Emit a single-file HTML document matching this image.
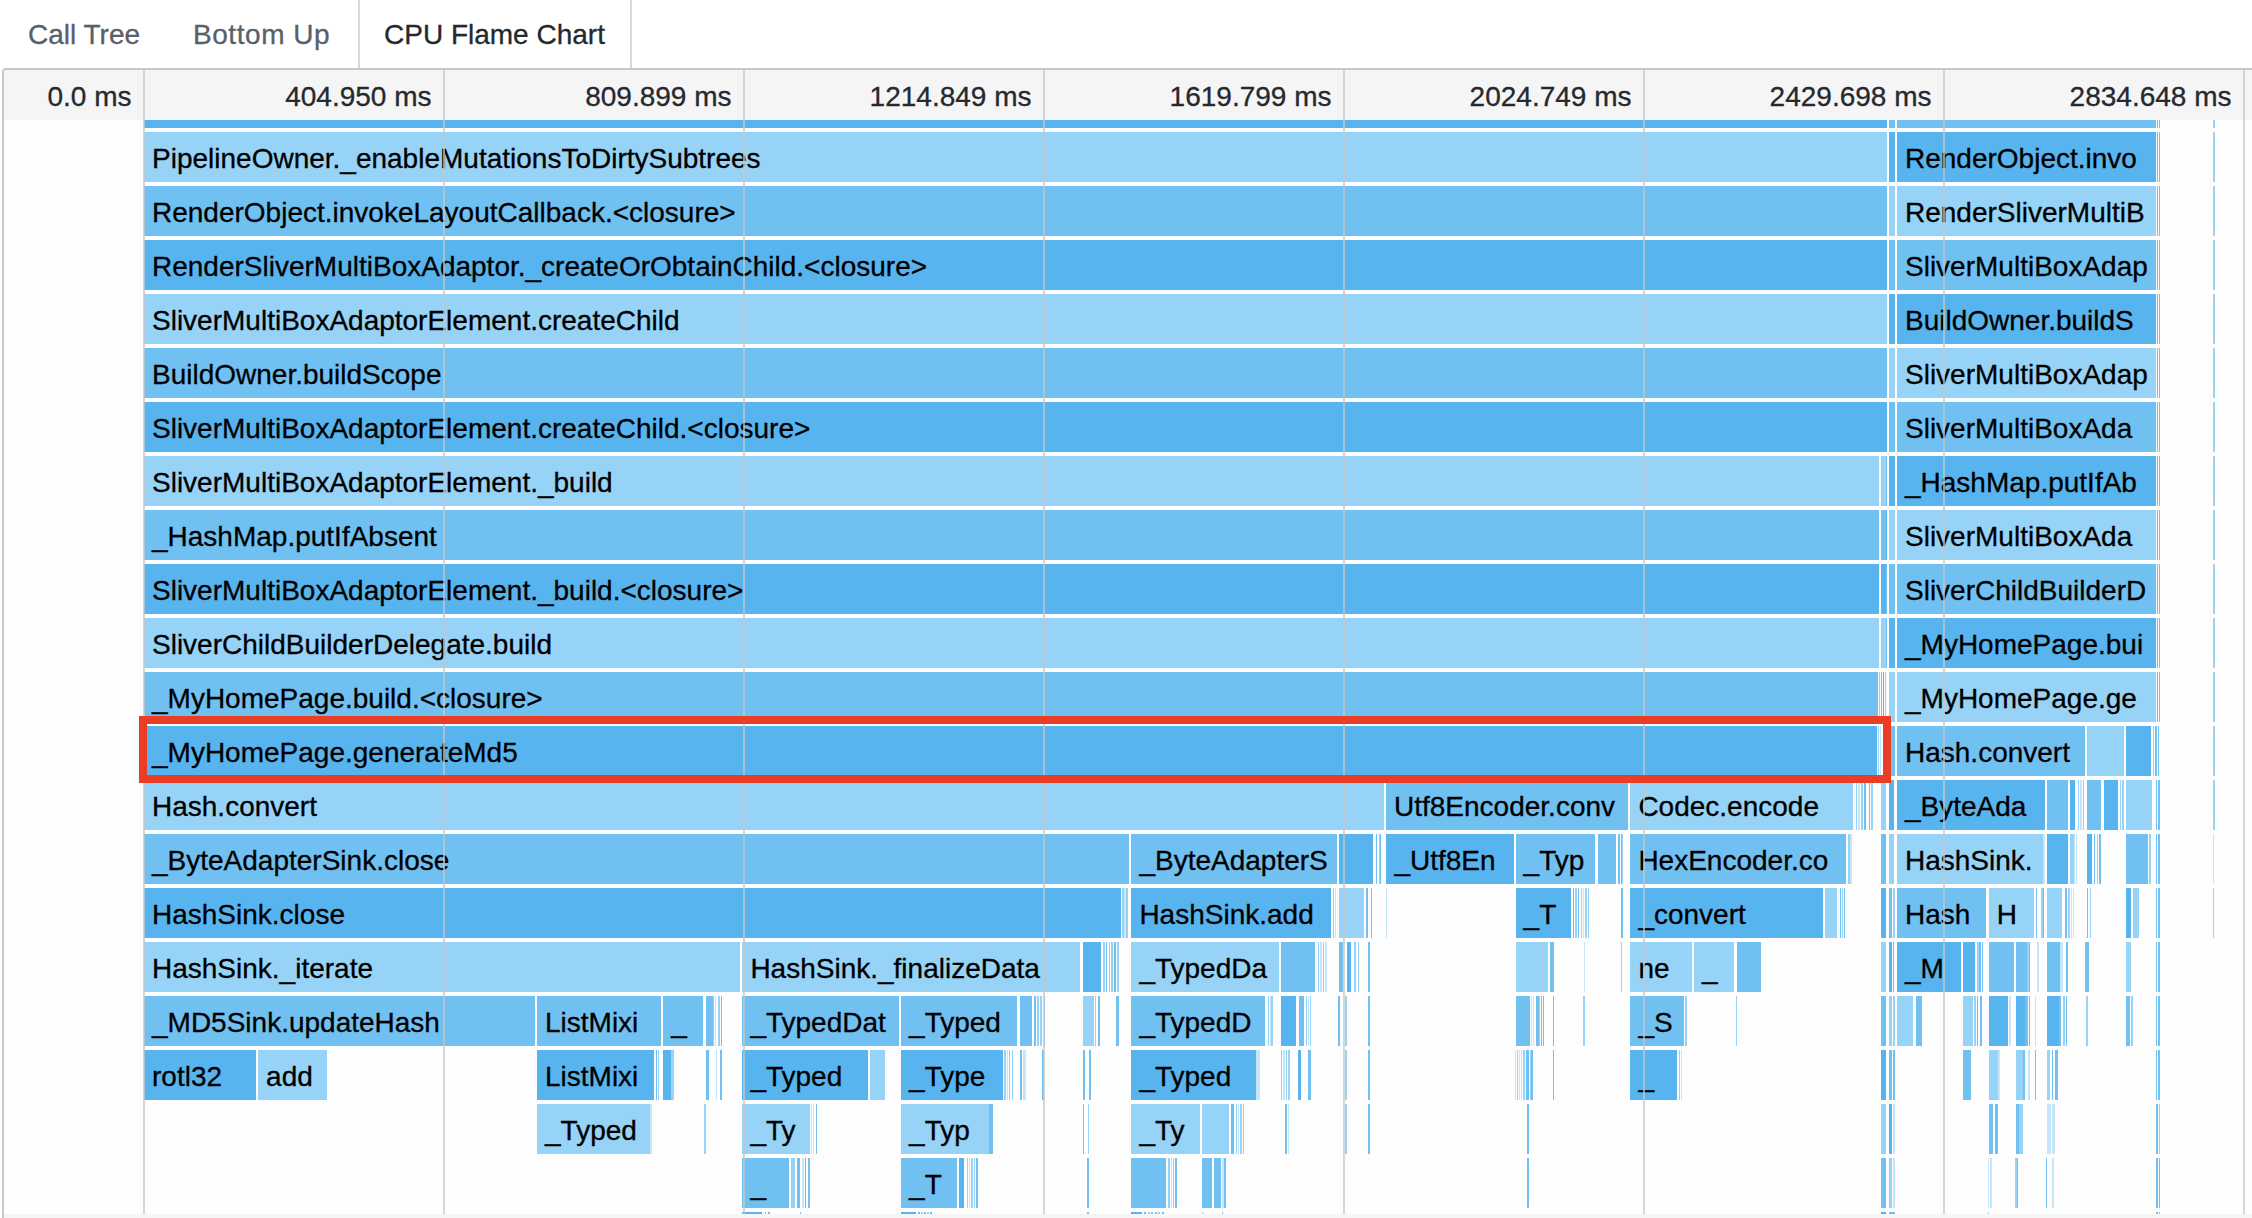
<!DOCTYPE html>
<html lang="en"><head><meta charset="utf-8"><title>CPU Flame Chart</title>
<style>
html,body{margin:0;padding:0;background:#fff}
body{width:2252px;height:1218px;overflow:hidden;position:relative;font-family:"Liberation Sans",sans-serif;font-size:28px;color:#000}
.tab{position:absolute;top:17px;height:36px;line-height:36px;white-space:nowrap;color:#586069;-webkit-text-stroke:.3px #586069}
.tab.sel{color:#24292e;-webkit-text-stroke:.3px #24292e}
.vb{position:absolute;top:0;width:2px;height:68px;background:#d4d7db}
#panel{position:absolute;left:2px;top:68px;width:2260px;height:1160px;border:2px solid #c8c8c8;border-radius:4px 0 0 0;background:#fdfdfd;box-sizing:border-box;overflow:hidden}
#hdr{position:absolute;left:0;top:0;width:2252px;height:50px;background:#f5f5f5}
#chart{position:absolute;left:-4px;top:50px;width:2252px;height:1094px;overflow:hidden}
.r{position:absolute;left:0;width:2252px;height:50px}
.r i{position:absolute;top:0;height:50px;display:block}
.r b{position:absolute;top:0;height:50px;line-height:53px;font-weight:normal;white-space:nowrap;-webkit-text-stroke:.3px #000}
.tk{position:absolute;top:0;height:50px;line-height:53.5px;text-align:right;color:#24292e;white-space:nowrap;-webkit-text-stroke:.3px #24292e}
.g{position:absolute;top:70px;width:2px;height:1144px;background:rgba(198,198,198,.72)}
#sb{position:absolute;left:4px;top:1214px;width:2248px;height:4px;background:#f5f5f5}
#hl{position:absolute;left:139px;top:716px;width:1752px;height:67px;box-sizing:border-box;border:8px solid #e93d25}
</style></head><body>
<div class="tab" style="left:28px">Call Tree</div>
<div class="tab" style="left:193px;letter-spacing:.55px">Bottom Up</div>
<div class="tab sel" style="left:384px">CPU Flame Chart</div>
<div class="vb" style="left:358px"></div><div class="vb" style="left:630px"></div>
<div id="panel"><div id="hdr"><div class="tk" style="left:-172.5px;width:300px">0.0 ms</div><div class="tk" style="left:127.5px;width:300px">404.950 ms</div><div class="tk" style="left:427.5px;width:300px">809.899 ms</div><div class="tk" style="left:727.5px;width:300px">1214.849 ms</div><div class="tk" style="left:1027.5px;width:300px">1619.799 ms</div><div class="tk" style="left:1327.5px;width:300px">2024.749 ms</div><div class="tk" style="left:1627.5px;width:300px">2429.698 ms</div><div class="tk" style="left:1927.5px;width:300px">2834.648 ms</div></div><div id="chart"><div class="r" style="top:-42px"><i style="left:144px;width:1743px;background:#58b4ef"></i><i style="left:1889px;width:5.6px;background:#70c0f2"></i><i style="left:1897px;width:259px;background:#70c0f2"></i><i style="left:2156.8px;width:1.2px;background:#70c0f2"></i><i style="left:2158.8px;width:1.2px;background:#70c0f2"></i><i style="left:2213.2px;width:1.6px;background:#96d3f6"></i></div>
<div class="r" style="top:12px"><i style="left:144px;width:1743px;background:#96d3f6"></i><i style="left:1889px;width:5.6px;background:#58b4ef"></i><i style="left:1897px;width:259px;background:#58b4ef"></i><i style="left:2156.8px;width:1.2px;background:#70c0f2"></i><i style="left:2158.8px;width:1.2px;background:#70c0f2"></i><i style="left:2213.2px;width:1.6px;background:#96d3f6"></i><b style="left:152px">PipelineOwner._enableMutationsToDirtySubtrees</b><b style="left:1905px">RenderObject.invo</b></div>
<div class="r" style="top:66px"><i style="left:144px;width:1743px;background:#70c0f2"></i><i style="left:1889px;width:5.6px;background:#96d3f6"></i><i style="left:1897px;width:259px;background:#96d3f6"></i><i style="left:2156.8px;width:1.2px;background:#70c0f2"></i><i style="left:2158.8px;width:1.2px;background:#70c0f2"></i><i style="left:2213.2px;width:1.6px;background:#96d3f6"></i><b style="left:152px">RenderObject.invokeLayoutCallback.&lt;closure&gt;</b><b style="left:1905px">RenderSliverMultiB</b></div>
<div class="r" style="top:120px"><i style="left:144px;width:1743px;background:#58b4ef"></i><i style="left:1889px;width:5.6px;background:#70c0f2"></i><i style="left:1897px;width:259px;background:#70c0f2"></i><i style="left:2156.8px;width:1.2px;background:#70c0f2"></i><i style="left:2158.8px;width:1.2px;background:#70c0f2"></i><i style="left:2213.2px;width:1.6px;background:#96d3f6"></i><b style="left:152px">RenderSliverMultiBoxAdaptor._createOrObtainChild.&lt;closure&gt;</b><b style="left:1905px">SliverMultiBoxAdap</b></div>
<div class="r" style="top:174px"><i style="left:144px;width:1743px;background:#96d3f6"></i><i style="left:1889px;width:5.6px;background:#58b4ef"></i><i style="left:1897px;width:259px;background:#58b4ef"></i><i style="left:2156.8px;width:1.2px;background:#70c0f2"></i><i style="left:2158.8px;width:1.2px;background:#70c0f2"></i><i style="left:2213.2px;width:1.6px;background:#96d3f6"></i><b style="left:152px">SliverMultiBoxAdaptorElement.createChild</b><b style="left:1905px">BuildOwner.buildS</b></div>
<div class="r" style="top:228px"><i style="left:144px;width:1743px;background:#70c0f2"></i><i style="left:1889px;width:5.6px;background:#96d3f6"></i><i style="left:1897px;width:259px;background:#96d3f6"></i><i style="left:2156.8px;width:1.2px;background:#70c0f2"></i><i style="left:2158.8px;width:1.2px;background:#70c0f2"></i><i style="left:2213.2px;width:1.6px;background:#96d3f6"></i><b style="left:152px">BuildOwner.buildScope</b><b style="left:1905px">SliverMultiBoxAdap</b></div>
<div class="r" style="top:282px"><i style="left:144px;width:1743px;background:#58b4ef"></i><i style="left:1889px;width:5.6px;background:#70c0f2"></i><i style="left:1897px;width:259px;background:#70c0f2"></i><i style="left:2156.8px;width:1.2px;background:#70c0f2"></i><i style="left:2158.8px;width:1.2px;background:#70c0f2"></i><i style="left:2213.2px;width:1.6px;background:#96d3f6"></i><b style="left:152px">SliverMultiBoxAdaptorElement.createChild.&lt;closure&gt;</b><b style="left:1905px">SliverMultiBoxAda</b></div>
<div class="r" style="top:336px"><i style="left:144px;width:1735px;background:#96d3f6"></i><i style="left:1881px;width:4.8px;background:#96d3f6"></i><i style="left:1886.2px;width:1px;background:#70c0f2"></i><i style="left:1889px;width:5.6px;background:#58b4ef"></i><i style="left:1897px;width:259px;background:#58b4ef"></i><i style="left:2156.8px;width:1.2px;background:#70c0f2"></i><i style="left:2158.8px;width:1.2px;background:#70c0f2"></i><i style="left:2213.2px;width:1.6px;background:#96d3f6"></i><b style="left:152px">SliverMultiBoxAdaptorElement._build</b><b style="left:1905px">_HashMap.putIfAb</b></div>
<div class="r" style="top:390px"><i style="left:144px;width:1735px;background:#70c0f2"></i><i style="left:1881px;width:4.8px;background:#70c0f2"></i><i style="left:1886.2px;width:1px;background:#58b4ef"></i><i style="left:1889px;width:5.6px;background:#96d3f6"></i><i style="left:1897px;width:259px;background:#96d3f6"></i><i style="left:2156.8px;width:1.2px;background:#70c0f2"></i><i style="left:2158.8px;width:1.2px;background:#70c0f2"></i><i style="left:2213.2px;width:1.6px;background:#96d3f6"></i><b style="left:152px">_HashMap.putIfAbsent</b><b style="left:1905px">SliverMultiBoxAda</b></div>
<div class="r" style="top:444px"><i style="left:144px;width:1735px;background:#58b4ef"></i><i style="left:1881px;width:4.8px;background:#58b4ef"></i><i style="left:1886.2px;width:1px;background:#70c0f2"></i><i style="left:1889px;width:5.6px;background:#70c0f2"></i><i style="left:1897px;width:259px;background:#70c0f2"></i><i style="left:2156.8px;width:1.2px;background:#70c0f2"></i><i style="left:2158.8px;width:1.2px;background:#70c0f2"></i><i style="left:2213.2px;width:1.6px;background:#96d3f6"></i><b style="left:152px">SliverMultiBoxAdaptorElement._build.&lt;closure&gt;</b><b style="left:1905px">SliverChildBuilderD</b></div>
<div class="r" style="top:498px"><i style="left:144px;width:1735px;background:#96d3f6"></i><i style="left:1881px;width:4.8px;background:#96d3f6"></i><i style="left:1886.2px;width:1px;background:#70c0f2"></i><i style="left:1889px;width:5.6px;background:#58b4ef"></i><i style="left:1897px;width:259px;background:#58b4ef"></i><i style="left:2156.8px;width:1.2px;background:#70c0f2"></i><i style="left:2158.8px;width:1.2px;background:#70c0f2"></i><i style="left:2213.2px;width:1.6px;background:#96d3f6"></i><b style="left:152px">SliverChildBuilderDelegate.build</b><b style="left:1905px">_MyHomePage.bui</b></div>
<div class="r" style="top:552px"><i style="left:144px;width:1734px;background:#70c0f2"></i><i style="left:1879px;width:1.2px;background:#96d3f6"></i><i style="left:1881px;width:1.2px;background:#70c0f2"></i><i style="left:1883px;width:1.2px;background:#58b4ef"></i><i style="left:1885px;width:1.2px;background:#96d3f6"></i><i style="left:1889px;width:5.6px;background:#96d3f6"></i><i style="left:1897px;width:259px;background:#96d3f6"></i><i style="left:2156.8px;width:1.2px;background:#70c0f2"></i><i style="left:2158.8px;width:1.2px;background:#70c0f2"></i><i style="left:2213.2px;width:1.6px;background:#96d3f6"></i><b style="left:152px">_MyHomePage.build.&lt;closure&gt;</b><b style="left:1905px">_MyHomePage.ge</b></div>
<div class="r" style="top:606px"><i style="left:144px;width:1733px;background:#58b4ef"></i><i style="left:1878px;width:1px;background:#96d3f6"></i><i style="left:1879.5px;width:1px;background:#c4e5fa"></i><i style="left:1889px;width:5.6px;background:#70c0f2"></i><i style="left:2213.2px;width:1.6px;background:#96d3f6"></i><i style="left:1897px;width:187.6px;background:#70c0f2"></i><i style="left:2086.8px;width:37.2px;background:#96d3f6"></i><i style="left:2126px;width:25px;background:#58b4ef"></i><i style="left:2153px;width:1.4px;background:#96d3f6"></i><i style="left:2155.4px;width:1.4px;background:#70c0f2"></i><i style="left:2157.8px;width:1.4px;background:#70c0f2"></i><b style="left:152px">_MyHomePage.generateMd5</b><b style="left:1905px">Hash.convert</b></div>
<div class="r" style="top:660px"><i style="left:144px;width:1240px;background:#96d3f6"></i><i style="left:1386px;width:242px;background:#70c0f2"></i><i style="left:1630.4px;width:222.6px;background:#96d3f6"></i><i style="left:1855.6px;width:1.6px;background:#96d3f6"></i><i style="left:1858.4px;width:1.6px;background:#c4e5fa"></i><i style="left:1861.2px;width:1.6px;background:#96d3f6"></i><i style="left:1864px;width:1.6px;background:#70c0f2"></i><i style="left:1869px;width:1.4px;background:#70c0f2"></i><i style="left:1871.2px;width:1.4px;background:#96d3f6"></i><i style="left:1881px;width:4.8px;background:#96d3f6"></i><i style="left:1889px;width:5px;background:#58b4ef"></i><i style="left:1897px;width:148px;background:#58b4ef"></i><i style="left:2047.3px;width:20.3px;background:#70c0f2"></i><i style="left:2070px;width:5px;background:#58b4ef"></i><i style="left:2078px;width:1.4px;background:#96d3f6"></i><i style="left:2080.4px;width:1.4px;background:#c4e5fa"></i><i style="left:2082.8px;width:1.4px;background:#96d3f6"></i><i style="left:2086.8px;width:14.7px;background:#70c0f2"></i><i style="left:2104.4px;width:13.6px;background:#58b4ef"></i><i style="left:2120px;width:1.4px;background:#96d3f6"></i><i style="left:2122.4px;width:1.4px;background:#96d3f6"></i><i style="left:2126px;width:25.6px;background:#96d3f6"></i><i style="left:2155.8px;width:1.7px;background:#70c0f2"></i><i style="left:2158.4px;width:1.6px;background:#70c0f2"></i><i style="left:2213.2px;width:1.4px;background:#96d3f6"></i><b style="left:152px">Hash.convert</b><b style="left:1905px">_ByteAda</b><b style="left:1394px">Utf8Encoder.conv</b><b style="left:1638.4px">Codec.encode</b></div>
<div class="r" style="top:714px"><i style="left:144px;width:985.4px;background:#70c0f2"></i><i style="left:1131.4px;width:205.6px;background:#70c0f2"></i><i style="left:1339px;width:34px;background:#58b4ef"></i><i style="left:1375.6px;width:1.2px;background:#70c0f2"></i><i style="left:1378.6px;width:1px;background:#96d3f6"></i><i style="left:1380.2px;width:1px;background:#70c0f2"></i><i style="left:1386.4px;width:127.2px;background:#58b4ef"></i><i style="left:1515.6px;width:79.4px;background:#70c0f2"></i><i style="left:1597.6px;width:18.4px;background:#70c0f2"></i><i style="left:1618.4px;width:1.6px;background:#70c0f2"></i><i style="left:1620.8px;width:1px;background:#70c0f2"></i><i style="left:1622.2px;width:1px;background:#96d3f6"></i><i style="left:1630.4px;width:215.6px;background:#70c0f2"></i><i style="left:1848.4px;width:1.2px;background:#96d3f6"></i><i style="left:1850.4px;width:1.2px;background:#c4e5fa"></i><i style="left:1881px;width:4.8px;background:#70c0f2"></i><i style="left:1889px;width:5px;background:#96d3f6"></i><i style="left:1897px;width:146px;background:#96d3f6"></i><i style="left:2043.4px;width:1.6px;background:#c4e5fa"></i><i style="left:2047.3px;width:20.3px;background:#58b4ef"></i><i style="left:2070px;width:3.5px;background:#96d3f6"></i><i style="left:2074px;width:1px;background:#c4e5fa"></i><i style="left:2075.6px;width:1px;background:#c4e5fa"></i><i style="left:2086.8px;width:5.2px;background:#58b4ef"></i><i style="left:2094px;width:1.4px;background:#70c0f2"></i><i style="left:2096.6px;width:1.4px;background:#96d3f6"></i><i style="left:2099.2px;width:1.4px;background:#70c0f2"></i><i style="left:2126px;width:22px;background:#70c0f2"></i><i style="left:2149px;width:1.8px;background:#96d3f6"></i><i style="left:2155.8px;width:1.7px;background:#70c0f2"></i><i style="left:2158.4px;width:1.6px;background:#70c0f2"></i><i style="left:2213.2px;width:1.2px;background:#c4e5fa"></i><b style="left:152px">_ByteAdapterSink.close</b><b style="left:1905px">HashSink.</b><b style="left:1139.4px">_ByteAdapterS</b><b style="left:1394.4px">_Utf8En</b><b style="left:1523.6px">_Typ</b><b style="left:1638.4px">HexEncoder.co</b></div>
<div class="r" style="top:768px"><i style="left:144px;width:977px;background:#58b4ef"></i><i style="left:1122.4px;width:1.2px;background:#96d3f6"></i><i style="left:1124.4px;width:1.2px;background:#c4e5fa"></i><i style="left:1126.4px;width:1.2px;background:#96d3f6"></i><i style="left:1131.4px;width:199.6px;background:#58b4ef"></i><i style="left:1333px;width:1.2px;background:#96d3f6"></i><i style="left:1335px;width:1.2px;background:#c4e5fa"></i><i style="left:1339px;width:25px;background:#96d3f6"></i><i style="left:1366.4px;width:1.6px;background:#70c0f2"></i><i style="left:1371px;width:1.4px;background:#70c0f2"></i><i style="left:1386.2px;width:0.6px;background:#c4e5fa"></i><i style="left:1515.6px;width:55.4px;background:#58b4ef"></i><i style="left:1573px;width:1.4px;background:#70c0f2"></i><i style="left:1575.4px;width:1.4px;background:#96d3f6"></i><i style="left:1577.8px;width:1.4px;background:#70c0f2"></i><i style="left:1581px;width:1.2px;background:#96d3f6"></i><i style="left:1583.2px;width:1.2px;background:#c4e5fa"></i><i style="left:1585.4px;width:1.2px;background:#96d3f6"></i><i style="left:1587.6px;width:1.2px;background:#96d3f6"></i><i style="left:1621px;width:2px;background:#70c0f2"></i><i style="left:1630.4px;width:192.6px;background:#58b4ef"></i><i style="left:1825.4px;width:11.6px;background:#96d3f6"></i><i style="left:1839.6px;width:1.4px;background:#70c0f2"></i><i style="left:1841.7px;width:1.4px;background:#96d3f6"></i><i style="left:1843.8px;width:1.4px;background:#70c0f2"></i><i style="left:1881px;width:4.8px;background:#58b4ef"></i><i style="left:1889px;width:3px;background:#70c0f2"></i><i style="left:1893px;width:1.6px;background:#96d3f6"></i><i style="left:1897px;width:89.2px;background:#70c0f2"></i><i style="left:1988.7px;width:45px;background:#96d3f6"></i><i style="left:2036px;width:1.2px;background:#70c0f2"></i><i style="left:2041.3px;width:1.3px;background:#96d3f6"></i><i style="left:2043.2px;width:1px;background:#70c0f2"></i><i style="left:2047.3px;width:15.2px;background:#96d3f6"></i><i style="left:2065px;width:1.8px;background:#70c0f2"></i><i style="left:2067.6px;width:2.9px;background:#96d3f6"></i><i style="left:2071px;width:1.2px;background:#c4e5fa"></i><i style="left:2072.6px;width:1.2px;background:#c4e5fa"></i><i style="left:2086.8px;width:1.2px;background:#70c0f2"></i><i style="left:2089.7px;width:1.7px;background:#96d3f6"></i><i style="left:2126px;width:4.7px;background:#58b4ef"></i><i style="left:2133px;width:4.7px;background:#96d3f6"></i><i style="left:2138.4px;width:0.8px;background:#96d3f6"></i><i style="left:2155.8px;width:1.7px;background:#70c0f2"></i><i style="left:2158.4px;width:1.6px;background:#70c0f2"></i><i style="left:2213.2px;width:1.2px;background:#96d3f6"></i><b style="left:152px">HashSink.close</b><b style="left:1905px">Hash</b><b style="left:1139.4px">HashSink.add</b><b style="left:1523.6px">_T</b><b style="left:1638.4px">_convert</b><b style="left:1996.7px">H</b></div>
<div class="r" style="top:822px"><i style="left:144px;width:596.2px;background:#96d3f6"></i><i style="left:742.4px;width:337.6px;background:#96d3f6"></i><i style="left:1082.6px;width:18.2px;background:#58b4ef"></i><i style="left:1103px;width:1.6px;background:#96d3f6"></i><i style="left:1105.8px;width:1.6px;background:#70c0f2"></i><i style="left:1108.6px;width:1.6px;background:#96d3f6"></i><i style="left:1111.4px;width:1.6px;background:#96d3f6"></i><i style="left:1114.2px;width:1.6px;background:#70c0f2"></i><i style="left:1117px;width:1.6px;background:#96d3f6"></i><i style="left:1131.4px;width:147.6px;background:#96d3f6"></i><i style="left:1281.4px;width:33.6px;background:#70c0f2"></i><i style="left:1317.6px;width:1.4px;background:#96d3f6"></i><i style="left:1320.2px;width:1.4px;background:#c4e5fa"></i><i style="left:1322.8px;width:1.4px;background:#96d3f6"></i><i style="left:1325.4px;width:1.4px;background:#c4e5fa"></i><i style="left:1339px;width:4px;background:#70c0f2"></i><i style="left:1347.4px;width:3.6px;background:#58b4ef"></i><i style="left:1353.6px;width:2.4px;background:#96d3f6"></i><i style="left:1358px;width:1.4px;background:#96d3f6"></i><i style="left:1368.4px;width:1.6px;background:#70c0f2"></i><i style="left:1515.6px;width:32.4px;background:#96d3f6"></i><i style="left:1550.4px;width:4px;background:#70c0f2"></i><i style="left:1584px;width:1px;background:#c4e5fa"></i><i style="left:1621px;width:1.4px;background:#96d3f6"></i><i style="left:1630.4px;width:61.2px;background:#96d3f6"></i><i style="left:1694px;width:40px;background:#96d3f6"></i><i style="left:1736.6px;width:24.4px;background:#70c0f2"></i><i style="left:1881px;width:4.8px;background:#96d3f6"></i><i style="left:1889px;width:3.4px;background:#58b4ef"></i><i style="left:1893px;width:1.4px;background:#70c0f2"></i><i style="left:1897px;width:63.8px;background:#58b4ef"></i><i style="left:1963px;width:12.2px;background:#58b4ef"></i><i style="left:1976.9px;width:1.7px;background:#96d3f6"></i><i style="left:1979.4px;width:1.4px;background:#70c0f2"></i><i style="left:1981.6px;width:1.2px;background:#70c0f2"></i><i style="left:1988.7px;width:25.2px;background:#70c0f2"></i><i style="left:2015.9px;width:11.1px;background:#70c0f2"></i><i style="left:2027.4px;width:1.2px;background:#96d3f6"></i><i style="left:2029px;width:1.3px;background:#70c0f2"></i><i style="left:2037px;width:1.8px;background:#c4e5fa"></i><i style="left:2047.3px;width:12.7px;background:#70c0f2"></i><i style="left:2060px;width:2.9px;background:#c4e5fa"></i><i style="left:2066px;width:1.6px;background:#70c0f2"></i><i style="left:2085.4px;width:3.4px;background:#70c0f2"></i><i style="left:2126px;width:4.9px;background:#96d3f6"></i><i style="left:2155.8px;width:1.7px;background:#70c0f2"></i><i style="left:2158.4px;width:1.6px;background:#70c0f2"></i><b style="left:152px">HashSink._iterate</b><b style="left:1905px">_M</b><b style="left:750.4px">HashSink._finalizeData</b><b style="left:1139.4px">_TypedDa</b><b style="left:1638.4px">ne</b><b style="left:1702px">_</b></div>
<div class="r" style="top:876px"><i style="left:144px;width:390.7px;background:#70c0f2"></i><i style="left:537px;width:123.9px;background:#70c0f2"></i><i style="left:663.3px;width:40.2px;background:#70c0f2"></i><i style="left:705.9px;width:6.9px;background:#70c0f2"></i><i style="left:713.4px;width:1px;background:#96d3f6"></i><i style="left:715.1px;width:1px;background:#c4e5fa"></i><i style="left:717.8px;width:1.8px;background:#96d3f6"></i><i style="left:720.8px;width:1.6px;background:#70c0f2"></i><i style="left:742.4px;width:156.3px;background:#70c0f2"></i><i style="left:901.1px;width:116.4px;background:#70c0f2"></i><i style="left:1020.4px;width:11.3px;background:#70c0f2"></i><i style="left:1034px;width:1.6px;background:#70c0f2"></i><i style="left:1037px;width:2.2px;background:#96d3f6"></i><i style="left:1040.4px;width:1.6px;background:#96d3f6"></i><i style="left:1043.5px;width:1.7px;background:#70c0f2"></i><i style="left:1082.6px;width:11.1px;background:#96d3f6"></i><i style="left:1094.8px;width:1.6px;background:#96d3f6"></i><i style="left:1098px;width:1.8px;background:#70c0f2"></i><i style="left:1116px;width:2.5px;background:#70c0f2"></i><i style="left:1117px;width:1.4px;background:#70c0f2"></i><i style="left:1131.4px;width:133.6px;background:#70c0f2"></i><i style="left:1267.6px;width:1.2px;background:#96d3f6"></i><i style="left:1269.5px;width:1.2px;background:#c4e5fa"></i><i style="left:1271.4px;width:1.2px;background:#96d3f6"></i><i style="left:1281.4px;width:15px;background:#58b4ef"></i><i style="left:1299px;width:5.4px;background:#70c0f2"></i><i style="left:1306px;width:1.2px;background:#96d3f6"></i><i style="left:1308px;width:1.2px;background:#c4e5fa"></i><i style="left:1310px;width:1.2px;background:#96d3f6"></i><i style="left:1337.6px;width:2.4px;background:#70c0f2"></i><i style="left:1345px;width:2px;background:#96d3f6"></i><i style="left:1368.4px;width:1.2px;background:#70c0f2"></i><i style="left:1515.6px;width:14.4px;background:#70c0f2"></i><i style="left:1531px;width:1px;background:#c4e5fa"></i><i style="left:1532.6px;width:1px;background:#c4e5fa"></i><i style="left:1535.6px;width:1.3px;background:#70c0f2"></i><i style="left:1537.4px;width:1.3px;background:#70c0f2"></i><i style="left:1539.2px;width:1.3px;background:#96d3f6"></i><i style="left:1541px;width:1.3px;background:#70c0f2"></i><i style="left:1542.8px;width:1.3px;background:#70c0f2"></i><i style="left:1553px;width:1px;background:#70c0f2"></i><i style="left:1583.4px;width:1.6px;background:#96d3f6"></i><i style="left:1630.4px;width:54px;background:#70c0f2"></i><i style="left:1685px;width:1.6px;background:#96d3f6"></i><i style="left:1736px;width:1px;background:#96d3f6"></i><i style="left:1881px;width:4.8px;background:#70c0f2"></i><i style="left:1889px;width:3.4px;background:#96d3f6"></i><i style="left:1893.4px;width:1.6px;background:#96d3f6"></i><i style="left:1897px;width:16.4px;background:#96d3f6"></i><i style="left:1915.6px;width:6.6px;background:#70c0f2"></i><i style="left:1963px;width:9.6px;background:#96d3f6"></i><i style="left:1973.5px;width:2.5px;background:#96d3f6"></i><i style="left:1976.6px;width:1.2px;background:#70c0f2"></i><i style="left:1980.2px;width:1.8px;background:#70c0f2"></i><i style="left:1988.7px;width:19.2px;background:#58b4ef"></i><i style="left:2009px;width:1.8px;background:#c4e5fa"></i><i style="left:2015.9px;width:8.8px;background:#58b4ef"></i><i style="left:2025.2px;width:2.6px;background:#70c0f2"></i><i style="left:2028.6px;width:1.2px;background:#70c0f2"></i><i style="left:2034.9px;width:1px;background:#c4e5fa"></i><i style="left:2047.3px;width:11.3px;background:#58b4ef"></i><i style="left:2059px;width:1.8px;background:#70c0f2"></i><i style="left:2063.4px;width:1.6px;background:#96d3f6"></i><i style="left:2066px;width:1.3px;background:#70c0f2"></i><i style="left:2086px;width:1.6px;background:#96d3f6"></i><i style="left:2126px;width:4.4px;background:#70c0f2"></i><i style="left:2130.9px;width:1.7px;background:#96d3f6"></i><i style="left:2155.8px;width:1.7px;background:#70c0f2"></i><i style="left:2158.4px;width:1.6px;background:#70c0f2"></i><b style="left:152px">_MD5Sink.updateHash</b><b style="left:545px">ListMixi</b><b style="left:671.3px">_</b><b style="left:750.4px">_TypedDat</b><b style="left:909.1px">_Typed</b><b style="left:1139.4px">_TypedD</b><b style="left:1638.4px">_S</b></div>
<div class="r" style="top:930px"><i style="left:144px;width:111.9px;background:#58b4ef"></i><i style="left:258.1px;width:68.7px;background:#96d3f6"></i><i style="left:537px;width:116.9px;background:#58b4ef"></i><i style="left:655.9px;width:1.3px;background:#70c0f2"></i><i style="left:658.1px;width:1.3px;background:#96d3f6"></i><i style="left:663.3px;width:7.6px;background:#58b4ef"></i><i style="left:671px;width:2.9px;background:#96d3f6"></i><i style="left:705.9px;width:2.9px;background:#70c0f2"></i><i style="left:716.2px;width:1.2px;background:#c4e5fa"></i><i style="left:720.2px;width:1.6px;background:#70c0f2"></i><i style="left:742.4px;width:125.7px;background:#58b4ef"></i><i style="left:870.3px;width:14.8px;background:#96d3f6"></i><i style="left:901.1px;width:101.9px;background:#58b4ef"></i><i style="left:1004.3px;width:1.3px;background:#96d3f6"></i><i style="left:1006.7px;width:1.3px;background:#c4e5fa"></i><i style="left:1009.1px;width:1.3px;background:#96d3f6"></i><i style="left:1011.5px;width:1.3px;background:#96d3f6"></i><i style="left:1020px;width:1.5px;background:#70c0f2"></i><i style="left:1022.7px;width:2.9px;background:#c4e5fa"></i><i style="left:1042px;width:1.5px;background:#70c0f2"></i><i style="left:1082.6px;width:2.8px;background:#70c0f2"></i><i style="left:1089px;width:1.8px;background:#70c0f2"></i><i style="left:1131.4px;width:124.6px;background:#58b4ef"></i><i style="left:1256px;width:3.6px;background:#c4e5fa"></i><i style="left:1281px;width:1.4px;background:#96d3f6"></i><i style="left:1283.4px;width:1.4px;background:#c4e5fa"></i><i style="left:1285.8px;width:1.4px;background:#96d3f6"></i><i style="left:1288.2px;width:1.4px;background:#96d3f6"></i><i style="left:1298.4px;width:2.6px;background:#58b4ef"></i><i style="left:1308px;width:2.6px;background:#70c0f2"></i><i style="left:1345.2px;width:1.6px;background:#96d3f6"></i><i style="left:1368.4px;width:1.2px;background:#70c0f2"></i><i style="left:1515px;width:1.2px;background:#c4e5fa"></i><i style="left:1517.1px;width:1.2px;background:#96d3f6"></i><i style="left:1519.2px;width:1.2px;background:#c4e5fa"></i><i style="left:1521.3px;width:1.2px;background:#c4e5fa"></i><i style="left:1523.4px;width:1.2px;background:#96d3f6"></i><i style="left:1526px;width:1.5px;background:#70c0f2"></i><i style="left:1527.8px;width:1.5px;background:#70c0f2"></i><i style="left:1529.6px;width:1.5px;background:#96d3f6"></i><i style="left:1531.4px;width:1.5px;background:#70c0f2"></i><i style="left:1553px;width:1px;background:#70c0f2"></i><i style="left:1630.4px;width:46.6px;background:#58b4ef"></i><i style="left:1679px;width:1.2px;background:#96d3f6"></i><i style="left:1681px;width:1.2px;background:#c4e5fa"></i><i style="left:1881px;width:5px;background:#58b4ef"></i><i style="left:1889px;width:3px;background:#70c0f2"></i><i style="left:1893px;width:2px;background:#70c0f2"></i><i style="left:1963px;width:8.3px;background:#70c0f2"></i><i style="left:1988.7px;width:8.9px;background:#96d3f6"></i><i style="left:1998.4px;width:1.4px;background:#c4e5fa"></i><i style="left:2015.9px;width:6.8px;background:#96d3f6"></i><i style="left:2023.2px;width:2.2px;background:#70c0f2"></i><i style="left:2027.8px;width:2px;background:#c4e5fa"></i><i style="left:2034.5px;width:1.4px;background:#70c0f2"></i><i style="left:2047.3px;width:2.3px;background:#96d3f6"></i><i style="left:2051.8px;width:1.7px;background:#70c0f2"></i><i style="left:2054.9px;width:2.9px;background:#70c0f2"></i><i style="left:2155.8px;width:1.7px;background:#70c0f2"></i><i style="left:2158.4px;width:1.6px;background:#70c0f2"></i><b style="left:152px">rotl32</b><b style="left:266.1px">add</b><b style="left:545px">ListMixi</b><b style="left:750.4px">_Typed</b><b style="left:909.1px">_Type</b><b style="left:1139.4px">_Typed</b><b style="left:1638.4px">_</b></div>
<div class="r" style="top:984px"><i style="left:537px;width:112.9px;background:#96d3f6"></i><i style="left:650px;width:1.5px;background:#c4e5fa"></i><i style="left:704.3px;width:1.6px;background:#96d3f6"></i><i style="left:742.4px;width:67.8px;background:#96d3f6"></i><i style="left:811px;width:1.2px;background:#c4e5fa"></i><i style="left:813px;width:1.2px;background:#c4e5fa"></i><i style="left:815.8px;width:1.4px;background:#70c0f2"></i><i style="left:901.1px;width:87.9px;background:#96d3f6"></i><i style="left:989px;width:3.5px;background:#70c0f2"></i><i style="left:1082.6px;width:1.6px;background:#70c0f2"></i><i style="left:1087.8px;width:1.2px;background:#96d3f6"></i><i style="left:1131.4px;width:68.2px;background:#96d3f6"></i><i style="left:1202.2px;width:26.8px;background:#96d3f6"></i><i style="left:1231px;width:3.4px;background:#70c0f2"></i><i style="left:1236px;width:1.3px;background:#96d3f6"></i><i style="left:1238.2px;width:1.3px;background:#c4e5fa"></i><i style="left:1240.4px;width:1.3px;background:#96d3f6"></i><i style="left:1242.6px;width:1.3px;background:#96d3f6"></i><i style="left:1285.4px;width:1.6px;background:#70c0f2"></i><i style="left:1288px;width:1px;background:#c4e5fa"></i><i style="left:1345.2px;width:1.6px;background:#96d3f6"></i><i style="left:1368.4px;width:1.2px;background:#70c0f2"></i><i style="left:1527.4px;width:1.2px;background:#70c0f2"></i><i style="left:1881px;width:5px;background:#96d3f6"></i><i style="left:1889px;width:3px;background:#58b4ef"></i><i style="left:1893.2px;width:1.8px;background:#c4e5fa"></i><i style="left:1988.7px;width:3.9px;background:#70c0f2"></i><i style="left:1995px;width:2.8px;background:#70c0f2"></i><i style="left:2015.9px;width:3.1px;background:#70c0f2"></i><i style="left:2019.3px;width:3.7px;background:#96d3f6"></i><i style="left:2047.3px;width:3.4px;background:#c4e5fa"></i><i style="left:2052.4px;width:2.3px;background:#c4e5fa"></i><i style="left:2155.8px;width:2px;background:#70c0f2"></i><i style="left:2158.8px;width:1.2px;background:#96d3f6"></i><b style="left:545px">_Typed</b><b style="left:750.4px">_Ty</b><b style="left:909.1px">_Typ</b><b style="left:1139.4px">_Ty</b></div>
<div class="r" style="top:1038px"><i style="left:742.4px;width:46.4px;background:#70c0f2"></i><i style="left:790.8px;width:4px;background:#96d3f6"></i><i style="left:797.4px;width:2.4px;background:#70c0f2"></i><i style="left:802.4px;width:1.6px;background:#c4e5fa"></i><i style="left:804.8px;width:1.6px;background:#70c0f2"></i><i style="left:807.8px;width:2px;background:#70c0f2"></i><i style="left:901.1px;width:55.9px;background:#70c0f2"></i><i style="left:959.4px;width:4.9px;background:#58b4ef"></i><i style="left:966.7px;width:1.3px;background:#96d3f6"></i><i style="left:969px;width:1.3px;background:#c4e5fa"></i><i style="left:971.3px;width:1.3px;background:#96d3f6"></i><i style="left:973.6px;width:1.3px;background:#96d3f6"></i><i style="left:976.2px;width:2.3px;background:#70c0f2"></i><i style="left:1087px;width:2.4px;background:#70c0f2"></i><i style="left:1131.4px;width:34.6px;background:#70c0f2"></i><i style="left:1168.4px;width:1.3px;background:#96d3f6"></i><i style="left:1170.5px;width:1.3px;background:#c4e5fa"></i><i style="left:1172.6px;width:1.3px;background:#96d3f6"></i><i style="left:1175px;width:2px;background:#70c0f2"></i><i style="left:1202.2px;width:9.8px;background:#70c0f2"></i><i style="left:1214.4px;width:6.6px;background:#70c0f2"></i><i style="left:1222.4px;width:1.6px;background:#c4e5fa"></i><i style="left:1224.4px;width:1.6px;background:#70c0f2"></i><i style="left:1527.4px;width:1.2px;background:#70c0f2"></i><i style="left:1881px;width:5px;background:#70c0f2"></i><i style="left:1889px;width:3px;background:#96d3f6"></i><i style="left:1893.2px;width:1.8px;background:#c4e5fa"></i><i style="left:1988px;width:1.4px;background:#c4e5fa"></i><i style="left:1990.4px;width:1.4px;background:#c4e5fa"></i><i style="left:2015.4px;width:1.4px;background:#96d3f6"></i><i style="left:2017px;width:1.2px;background:#70c0f2"></i><i style="left:2046px;width:1px;background:#70c0f2"></i><i style="left:2052.4px;width:1.4px;background:#c4e5fa"></i><i style="left:2156px;width:1.6px;background:#70c0f2"></i><i style="left:2158.6px;width:1.4px;background:#70c0f2"></i><b style="left:750.4px">_</b><b style="left:909.1px">_T</b></div>
<div class="r" style="top:1092px"><i style="left:742.4px;width:19.6px;background:#58b4ef"></i><i style="left:765px;width:1px;background:#70c0f2"></i><i style="left:768px;width:2px;background:#70c0f2"></i><i style="left:800px;width:1px;background:#70c0f2"></i><i style="left:901.1px;width:14.9px;background:#58b4ef"></i><i style="left:918px;width:1.5px;background:#70c0f2"></i><i style="left:921px;width:1.5px;background:#96d3f6"></i><i style="left:924px;width:1.5px;background:#70c0f2"></i><i style="left:927px;width:1.5px;background:#96d3f6"></i><i style="left:930px;width:1.5px;background:#70c0f2"></i><i style="left:1087px;width:2.4px;background:#70c0f2"></i><i style="left:1131.4px;width:10.6px;background:#58b4ef"></i><i style="left:1144px;width:2px;background:#70c0f2"></i><i style="left:1147.6px;width:2px;background:#96d3f6"></i><i style="left:1151.2px;width:2px;background:#70c0f2"></i><i style="left:1154.8px;width:2px;background:#70c0f2"></i><i style="left:1158.4px;width:2px;background:#96d3f6"></i><i style="left:1162px;width:2px;background:#70c0f2"></i><i style="left:1202.2px;width:1.8px;background:#c4e5fa"></i><i style="left:1222px;width:1px;background:#70c0f2"></i><i style="left:1881px;width:5px;background:#58b4ef"></i><i style="left:1888.6px;width:6.4px;background:#70c0f2"></i><i style="left:1987.6px;width:1.8px;background:#96d3f6"></i><i style="left:2156px;width:1.6px;background:#70c0f2"></i><i style="left:2158.6px;width:1.4px;background:#70c0f2"></i></div>
</div></div>
<div class="g" style="left:143px"></div><div class="g" style="left:443px"></div><div class="g" style="left:743px"></div><div class="g" style="left:1043px"></div><div class="g" style="left:1343px"></div><div class="g" style="left:1643px"></div><div class="g" style="left:1943px"></div><div class="g" style="left:2243px"></div><div id="sb"></div><div id="hl"></div>
</body></html>
